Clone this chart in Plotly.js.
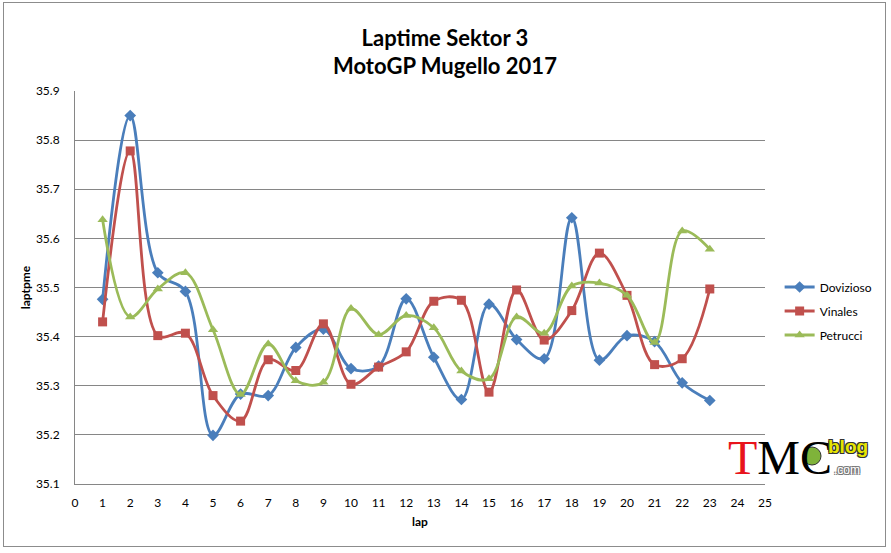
<!DOCTYPE html>
<html>
<head>
<meta charset="utf-8">
<script src="https://cdn.plot.ly/plotly-3.0.1.min.js"></script>
<style>
  body { margin: 0; background: #fff; }
  #wrap { position: relative; width: 891px; height: 553px; }
  #chart { width: 891px; height: 553px; }
  #frame { position: absolute; left: 3px; top: 2px; width: 881px; height: 543px;
           border: 1px solid #8c8c8c; pointer-events: none; }
</style>
</head>
<body>
<div id="wrap">
  <div id="chart"></div>
  <div id="frame"></div>
</div>
<script>
// lap numbers and sector 3 times
var laps = [1,2,3,4,5,6,7,8,9,10,11,12,13,14,15,16,17,18,19,20,21,22,23];

var dovizioso = [35.476,35.850,35.530,35.492,35.199,35.283,35.280,35.378,35.415,35.335,
                 35.340,35.477,35.358,35.272,35.466,35.394,35.355,35.642,35.352,35.402,
                 35.390,35.306,35.270];
var vinales   = [35.430,35.778,35.402,35.407,35.280,35.228,35.353,35.331,35.426,35.303,
                 35.338,35.369,35.472,35.474,35.287,35.495,35.393,35.453,35.570,35.484,
                 35.343,35.355,35.497];
var petrucci  = [35.638,35.440,35.497,35.530,35.414,35.282,35.385,35.310,35.307,35.457,
                 35.404,35.443,35.418,35.330,35.314,35.440,35.407,35.503,35.509,35.484,
                 35.388,35.615,35.578];

var riderNames  = ['Dovizioso', 'Vinales', 'Petrucci'];
var riderColors = ['#4a7ebb', '#c0504d', '#9bbb59'];
var riderSymbols = ['diamond', 'square', 'triangle-up'];
var riderSizes = [9, 9, 9];

var FONT = 'Lato, "Open Sans", sans-serif';

//Builds one smoothed line trace for a rider
function makeRiderTrace(i, times){
  return {
    x: laps,
    y: times,
    name: riderNames[i],
    legendgroup: riderNames[i],
    mode: 'lines+markers',
    type: 'scatter',
    line: {color: riderColors[i], width: 2.8, shape: 'spline', smoothing: 1},
    marker: {color: riderColors[i], symbol: riderSymbols[i], size: riderSizes[i]}
  };
}

var data = [
  makeRiderTrace(0, dovizioso),
  makeRiderTrace(1, vinales),
  makeRiderTrace(2, petrucci)
];

var layout = {
  width: 891,
  height: 553,
  paper_bgcolor: '#fff',
  plot_bgcolor: '#fff',
  margin: {l: 75, r: 126, t: 91, b: 69, autoexpand: false},
  font: {family: FONT, size: 12, color: '#000'},
  title: {
    text: 'Laptime Sektor 3<br>MotoGP Mugello 2017',
    font: {family: FONT, size: 22, weight: 'bold', color: '#000'},
    xref: 'container', x: 0.4994,
    yref: 'container', y: 0.917, yanchor: 'middle'
  },
  xaxis: {
    range: [0, 25],
    dtick: 1,
    tick0: 0,
    showgrid: false,
    zeroline: false,
    showline: true,
    linecolor: '#868686',
    ticks: '',
    ticklabelstandoff: 8,
    title: {text: 'lap', font: {size: 12, weight: 'bold'}, standoff: 8}
  },
  yaxis: {
    range: [35.1, 35.9],
    dtick: 0.1,
    tick0: 35.1,
    tickformat: '.1f',
    showgrid: true,
    gridcolor: '#868686',
    zeroline: false,
    showline: true,
    linecolor: '#868686',
    ticks: '',
    ticklabelstandoff: 12,
    title: {text: 'laptpme', font: {size: 12, weight: 'bold'}, standoff: 2}
  },
  legend: {
    xref: 'container', x: 0.875, xanchor: 'left',
    yref: 'container', y: 0.4376, yanchor: 'middle',
    font: {size: 12},
    tracegroupgap: 5,
    bgcolor: 'rgba(0,0,0,0)'
  },
  annotations: [
    // TMC blog logo in the bottom right corner
    {
      xref: 'paper', yref: 'paper', x: 0.944, y: 0.0687,
      xanchor: 'left', yanchor: 'middle', showarrow: false,
      text: '<span style="color:#e8141c">T</span>MC',
      font: {family: '"Liberation Serif", "DejaVu Serif", serif', size: 48, color: '#000'}
    },
    {
      xref: 'paper', yref: 'paper', x: 1.121, y: 0.096,
      xanchor: 'center', yanchor: 'middle', showarrow: false,
      text: 'blog',
      font: {family: 'Arial, "Liberation Sans", sans-serif', size: 19, weight: 'bold', color: '#e6e600',
             shadow: '1px 1px 0 #333, -1px -1px 0 #333, 1px -1px 0 #333, -1px 1px 0 #333'}
    },
    {
      xref: 'paper', yref: 'paper', x: 1.097, y: 0.036,
      xanchor: 'left', yanchor: 'middle', showarrow: false,
      text: '.com',
      font: {family: 'Arial, "Liberation Sans", sans-serif', size: 12, color: '#fff',
             shadow: '1px 1px 0 #777, -1px -1px 0 #777, 1px -1px 0 #777, -1px 1px 0 #777'}
    }
  ],
  shapes: [
    // small green badge inside the C of the logo
    {
      type: 'circle', xref: 'paper', yref: 'paper',
      x0: 1.0551, x1: 1.0812, y0: 0.0483, y1: 0.0941,
      fillcolor: '#7fb33a', line: {color: '#333', width: 1}
    }
  ]
};

Plotly.newPlot('chart', data, layout, {displayModeBar: false, staticPlot: true});
</script>
</body>
</html>
